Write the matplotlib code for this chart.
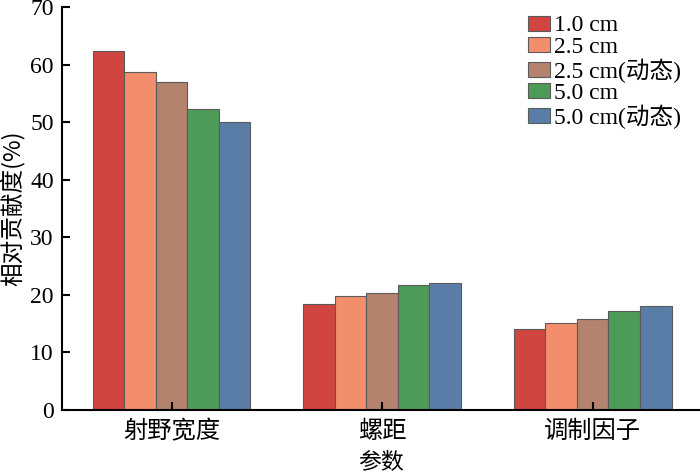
import matplotlib
matplotlib.use("Agg")
import matplotlib.pyplot as plt
import numpy as np

categories = ["射野宽度", "螺距", "调制因子"]
series_names = ["1.0 cm", "2.5 cm", "2.5 cm(动态)", "5.0 cm", "5.0 cm(动态)"]
values = [
    [62.3, 18.4, 14.0],
    [58.7, 19.7, 15.0],
    [57.0, 20.2, 15.7],
    [52.3, 21.6, 17.2],
    [50.1, 22.0, 18.1],
]
colors = ["#D0453F", "#F28E6B", "#B3836D", "#4E9A58", "#5A7DA8"]
yticks = [0, 10, 20, 30, 40, 50, 60, 70]

plt.rcParams['font.family'] = ['Liberation Serif', 'Noto Sans CJK SC']
plt.rcParams['font.size'] = 17

fig = plt.figure(figsize=(7, 4.73), dpi=100)
ax = fig.add_axes([0.0886, 0.134, 0.9114, 0.851])

x = np.arange(len(categories))
w = 0.15
for i, (name, vals, c) in enumerate(zip(series_names, values, colors)):
    ax.bar(x + (i - 2) * w, vals, width=w, color=c, edgecolor="#5a5a5a",
           linewidth=0.8, label=name)

ax.set_xlim(-0.52, 2.51)
ax.set_ylim(0, 70)
ax.set_yticks(yticks)
ax.set_xticks(x)
ax.set_xticklabels(categories, family=['Noto Sans CJK SC'], fontsize=17.5)
for lab in ax.get_yticklabels():
    lab.set_fontsize(17)
ax.tick_params(direction='in', length=6, width=1.5, pad=6)
ax.tick_params(axis='x', pad=6)
for s in ['top', 'right']:
    ax.spines[s].set_visible(False)
for s in ['left', 'bottom']:
    ax.spines[s].set_linewidth(1.5)

ax.set_ylabel("相对贡献度(%)", family=['Noto Sans CJK SC', 'Liberation Serif'],
              fontsize=17, labelpad=4)
xl = ax.set_xlabel("参数", family=['Noto Sans CJK SC'], fontsize=16.5)
ax.xaxis.set_label_coords(0.5, -0.128)
xl.set_va('center')

leg = ax.legend(loc='upper left', bbox_to_anchor=(0.697, 1.032), frameon=False,
                handlelength=0.93, handleheight=0.6,
                handletextpad=0.17, labelspacing=0.02,
                prop={'family': ['Liberation Serif', 'Noto Sans CJK SC'], 'size': 17})

fig.savefig("out.png", dpi=100)
